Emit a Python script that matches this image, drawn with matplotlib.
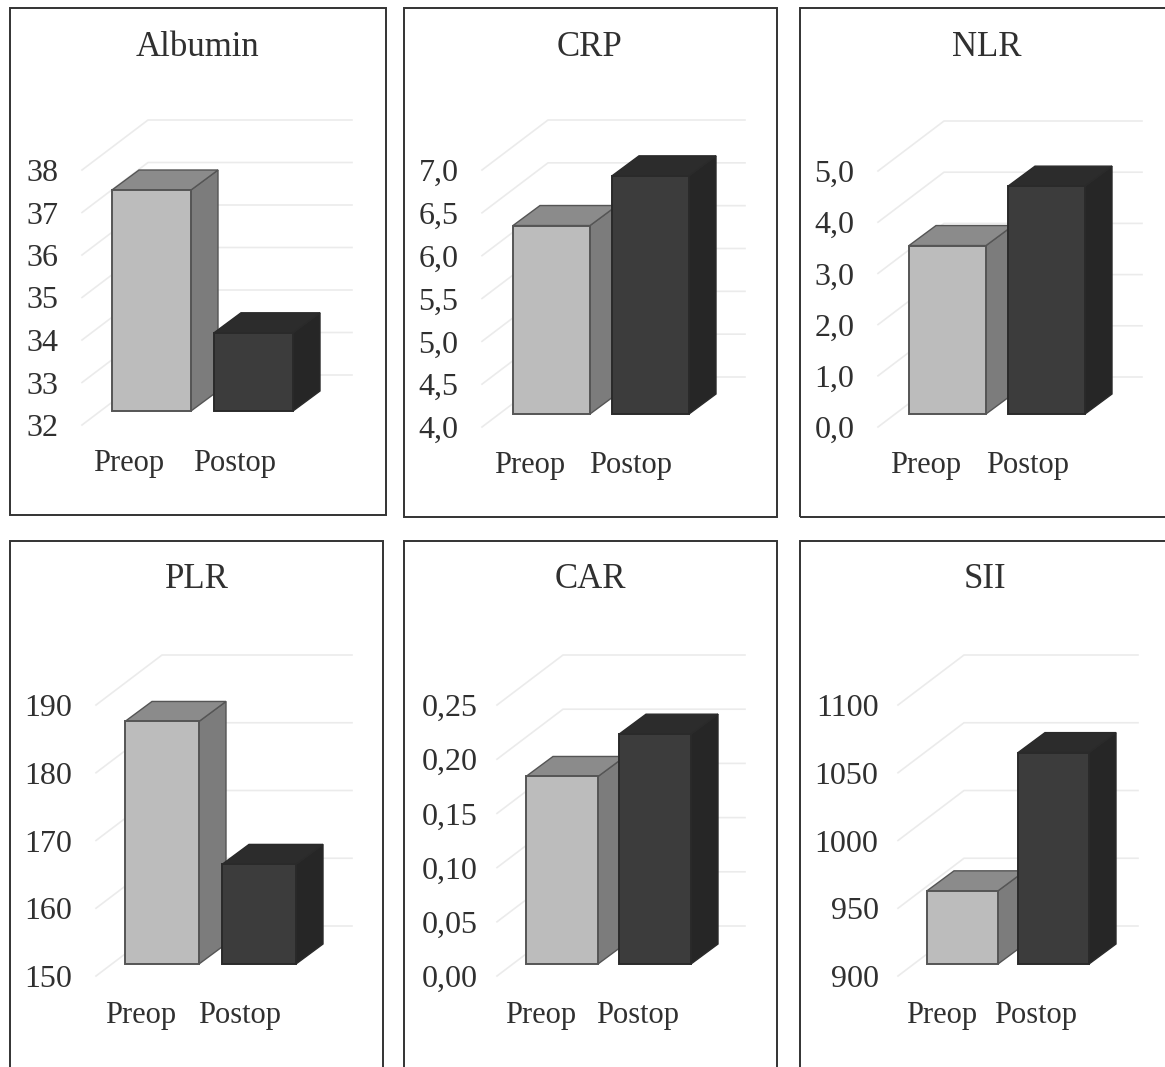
import matplotlib
matplotlib.use("Agg")
import matplotlib.pyplot as plt
from matplotlib.patches import Polygon, Rectangle

W, H = 1165, 1067

titles = ["Albumin", "CRP", "NLR", "PLR", "CAR", "SII"]
categories = ["Preop", "Postop"]
preop = [37.2, 6.2, 3.29, 185.8, 0.173, 954]
postop = [33.84, 6.78, 4.45, 164.7, 0.212, 1056]
tick_labels = [
    ["32", "33", "34", "35", "36", "37", "38"],
    ["4,0", "4,5", "5,0", "5,5", "6,0", "6,5", "7,0"],
    ["0,0", "1,0", "2,0", "3,0", "4,0", "5,0"],
    ["150", "160", "170", "180", "190"],
    ["0,00", "0,05", "0,10", "0,15", "0,20", "0,25"],
    ["900", "950", "1000", "1050", "1100"],
]
tick_values = [
    [32, 33, 34, 35, 36, 37, 38],
    [4.0, 4.5, 5.0, 5.5, 6.0, 6.5, 7.0],
    [0, 1, 2, 3, 4, 5],
    [150, 160, 170, 180, 190],
    [0, 0.05, 0.10, 0.15, 0.20, 0.25],
    [900, 950, 1000, 1050, 1100],
]

# pixel layout of every panel
frames = [(10, 8, 386, 515), (404, 8, 777, 517), (800, 8, 1175, 517),
          (10, 541, 383, 1080), (404, 541, 777, 1080), (800, 541, 1175, 1080)]
planes = [(82, 170, 425, 352), (482, 170, 427, 745), (878, 171, 427, 1142),
          (96, 705, 976, 352), (497, 705, 976, 745), (898, 705, 976, 1138)]
bar_lefts = [(112, 214), (513, 612), (909, 1008), (125, 222), (526, 619), (927, 1018)]
bar_widths = [79, 77, 77, 74, 72, 71]
label_centers = [(129, 235), (530, 631), (926, 1028), (141, 240), (541, 638), (942, 1036)]
label_y = [463, 465, 465, 1015, 1015, 1015]
title_x = [197, 590, 987, 197, 590, 985]
title_y = [47, 47, 47, 580, 580, 580]
tick_pad = [17, 17, 17, 17, 14, 14]

back_dx, back_dy = 66, 50
bar_dy = [14, 13, 13, 12, 12, 12]
side_dx, side_dy = 27, 20

col_light = ("#bcbcbc", "#7c7c7c", "#8b8b8b", "#555555")
col_dark = ("#3c3c3c", "#262626", "#2c2c2c", "#2a2a2a")
text_col = "#303030"

plt.rcParams["font.family"] = ["Liberation Serif", "DejaVu Serif"]
fig = plt.figure(figsize=(W / 100, H / 100), dpi=100)

for i in range(6):
    x0, y0, x1, y1 = frames[i]
    fig.add_artist(Rectangle((x0 / W, 1 - y1 / H), (x1 - x0) / W, (y1 - y0) / H,
                             transform=fig.transFigure, fill=False,
                             edgecolor="#333333", linewidth=1.4))
    fig.text(title_x[i] / W, 1 - title_y[i] / H, titles[i],
             fontsize=25, ha="center", va="center", color=text_col)

    left, top, bottom, right = planes[i]
    ax = fig.add_axes([left / W, 1 - bottom / H, (right - left) / W, (bottom - top) / H])
    ax.patch.set_alpha(0)
    for s in ax.spines.values():
        s.set_visible(False)
    ticks = tick_values[i]
    ax.set_xlim(left, right)
    ax.set_ylim(ticks[0], ticks[-1])
    ax.set_yticks(ticks)
    ax.set_yticklabels(tick_labels[i], fontsize=23, color=text_col)
    ax.tick_params(axis="y", length=0, pad=tick_pad[i])
    ax.set_xticks([])
    per_px = (ticks[-1] - ticks[0]) / (bottom - top)

    # gridlines: slanted on the side wall, then flat on the back wall
    for t in ticks:
        ax.plot([left, left + back_dx, right], [t, t + back_dy * per_px, t + back_dy * per_px],
                color="#ebebeb", lw=1.2, clip_on=False, zorder=1)

    base = ticks[0] + bar_dy[i] * per_px
    values = [preop[i], postop[i]]
    for j, v in enumerate(values):
        front, side, cap, edge = col_light if j == 0 else col_dark
        bx = bar_lefts[i][j]
        bw = bar_widths[i]
        h = v - ticks[0]
        sx, sy = side_dx, side_dy * per_px
        ax.bar(bx, h, width=bw, bottom=base, align="edge", color=front, edgecolor=edge,
               linewidth=1.4, clip_on=False, zorder=3 + j)
        top_v = base + h
        ax.add_patch(Polygon([(bx + bw, base), (bx + bw + sx, base + sy),
                              (bx + bw + sx, top_v + sy), (bx + bw, top_v)],
                             facecolor=side, edgecolor=edge, lw=1.0, clip_on=False, zorder=2 + j))
        ax.add_patch(Polygon([(bx, top_v), (bx + sx, top_v + sy),
                              (bx + bw + sx, top_v + sy), (bx + bw, top_v)],
                             facecolor=cap, edgecolor=edge, lw=1.0, clip_on=False, zorder=2 + j))
        fig.text(label_centers[i][j] / W, 1 - label_y[i] / H, categories[j],
                 fontsize=22, ha="center", va="center", color=text_col)

fig.savefig("out.png", dpi=100)
